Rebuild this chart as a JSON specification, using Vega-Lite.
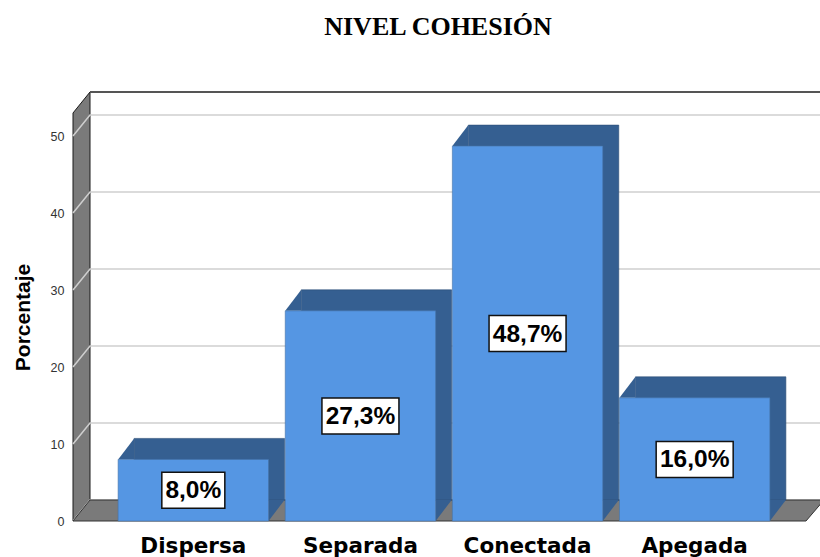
{
  "$schema": "https://vega.github.io/schema/vega-lite/v6.json",
  "autosize": "none",
  "width": 742,
  "height": 408,
  "padding": {"left": 73, "top": 113, "right": 5, "bottom": 36},
  "background": "white",
  "title": {"text": "NIVEL COHESIÓN", "font": "Liberation Serif", "fontSize": 26, "fontWeight": "bold", "color": "#000000", "anchor": "middle", "frame": "group", "baseline": "alphabetic", "offset": 27, "dx": -6},
  "config": {"view": {"stroke": null}},
  "datasets": {
    "bars": [
      {"cat": "Dispersa", "pct": 8.0},
      {"cat": "Separada", "pct": 27.3},
      {"cat": "Conectada", "pct": 48.7},
      {"cat": "Apegada", "pct": 16.0}
    ],
    "ticks": [{"t": 0}, {"t": 10}, {"t": 20}, {"t": 30}, {"t": 40}, {"t": 50}],
    "one": [{"k": 1}]
  },
  "layer": [
    {
      "data": {"name": "one"},
      "mark": {"type": "point", "shape": "M-371,0 L-371,-408 L-354,-429 L-354,-21 Z", "size": 4, "filled": true, "fill": "#7a7a7a", "stroke": "#1a1a1a", "strokeWidth": 1, "opacity": 1},
      "encoding": {"y": {"datum": 0, "type": "quantitative", "title": "Porcentaje", "scale": {"domain": [0, 53], "nice": false}}}
    },
    {
      "data": {"name": "ticks"},
      "mark": {"type": "point", "shape": "M-371,0 L-354,-21 L380,-21", "size": 4, "filled": false, "stroke": "#cfcfcf", "strokeWidth": 1.5, "opacity": 1},
      "encoding": {"y": {"field": "t", "type": "quantitative", "title": "Porcentaje"}}
    },
    {
      "data": {"name": "one"},
      "mark": {"type": "point", "shape": "M-354,-21 L380,-21", "size": 4, "filled": false, "stroke": "#555555", "strokeWidth": 2, "opacity": 1},
      "encoding": {"y": {"datum": 53, "type": "quantitative", "title": "Porcentaje"}}
    },
    {
      "data": {"name": "one"},
      "mark": {"type": "point", "shape": "M-371,0 L-354,-21 L380,-21 L362,0 Z", "size": 4, "filled": true, "fill": "#7a7a7a", "stroke": "#333333", "strokeWidth": 1, "opacity": 1},
      "encoding": {"y": {"datum": 0, "type": "quantitative", "title": "Porcentaje"}}
    },
    {
      "data": {"name": "bars"},
      "mark": {"type": "bar", "color": "#355f91", "stroke": "#2b4d76", "strokeWidth": 0.6, "xOffset": 16, "yOffset": -21, "y2Offset": -21},
      "encoding": {
        "x": {"field": "cat", "type": "nominal", "title": null, "sort": ["Dispersa", "Separada", "Conectada", "Apegada"], "scale": {"paddingInner": 0.1, "paddingOuter": 0.27}},
        "y": {"field": "pct", "type": "quantitative", "title": "Porcentaje"}
      }
    },
    {
      "data": {"name": "bars"},
      "mark": {"type": "point", "shape": "M0,0 L16,-21 L16,0 Z", "size": 4, "filled": true, "fill": "#355f91", "strokeWidth": 0, "opacity": 1, "xOffset": -75.2},
      "encoding": {
        "x": {"field": "cat", "type": "nominal", "title": null, "sort": ["Dispersa", "Separada", "Conectada", "Apegada"]},
        "y": {"field": "pct", "type": "quantitative", "title": "Porcentaje"}
      }
    },
    {
      "data": {"name": "bars"},
      "mark": {"type": "point", "shape": "M0,0 L16,-21 L0,-21 Z", "size": 4, "filled": true, "fill": "#355f91", "strokeWidth": 0, "opacity": 1, "xOffset": 75.2},
      "encoding": {
        "x": {"field": "cat", "type": "nominal", "title": null, "sort": ["Dispersa", "Separada", "Conectada", "Apegada"]},
        "y": {"datum": 0, "type": "quantitative", "title": "Porcentaje"}
      }
    },
    {
      "data": {"name": "bars"},
      "mark": {"type": "bar", "color": "#5596e3", "stroke": "#4674a8", "strokeWidth": 0.6},
      "encoding": {
        "x": {"field": "cat", "type": "nominal", "sort": ["Dispersa", "Separada", "Conectada", "Apegada"], "title": null,
          "axis": {"domain": false, "ticks": false, "labelAngle": 0, "labelAlign": "center", "labelBaseline": "top", "labelPadding": 14, "labelFont": "DejaVu Sans", "labelFontWeight": "bold", "labelFontSize": 21.5, "labelColor": "#000000"}},
        "y": {"field": "pct", "type": "quantitative", "title": "Porcentaje",
          "axis": {"titleFont": "Liberation Sans", "titleFontSize": 21, "titleFontWeight": "bold", "titleColor": "#000000", "titleX": -40, "values": [0, 10, 20, 30, 40, 50], "domain": false, "ticks": false, "grid": false, "labelPadding": 9, "labelFont": "Liberation Sans", "labelFontSize": 12.5, "labelColor": "#333333"}}
      }
    },
    {
      "data": {"name": "bars"},
      "transform": [
        {"calculate": "datum.pct / 2", "as": "mid"},
        {"calculate": "replace(format(datum.pct, '.1f'), '.', ',') + '%'", "as": "label"},
        {"calculate": "length(datum.label)", "as": "n"}
      ],
      "layer": [
        {
          "mark": {"type": "point", "size": 4, "filled": true, "fill": "#ffffff", "stroke": "#111111", "strokeWidth": 1.5, "opacity": 1},
          "encoding": {
            "x": {"field": "cat", "type": "nominal", "title": null, "sort": ["Dispersa", "Separada", "Conectada", "Apegada"]},
            "y": {"field": "mid", "type": "quantitative", "title": "Porcentaje"},
            "shape": {"field": "n", "type": "nominal", "scale": {"domain": [4, 5], "range": ["M-31.5,-18 L31.5,-18 L31.5,18 L-31.5,18 Z", "M-38.5,-18 L38.5,-18 L38.5,18 L-38.5,18 Z"]}, "legend": null}
          }
        },
        {
          "mark": {"type": "text", "font": "Liberation Sans", "fontWeight": "bold", "fontSize": 24.5, "baseline": "middle", "align": "center", "dy": 1, "color": "#000000"},
          "encoding": {
            "x": {"field": "cat", "type": "nominal", "title": null, "sort": ["Dispersa", "Separada", "Conectada", "Apegada"]},
            "y": {"field": "mid", "type": "quantitative", "title": "Porcentaje"},
            "text": {"field": "label"}
          }
        }
      ]
    }
  ]
}
